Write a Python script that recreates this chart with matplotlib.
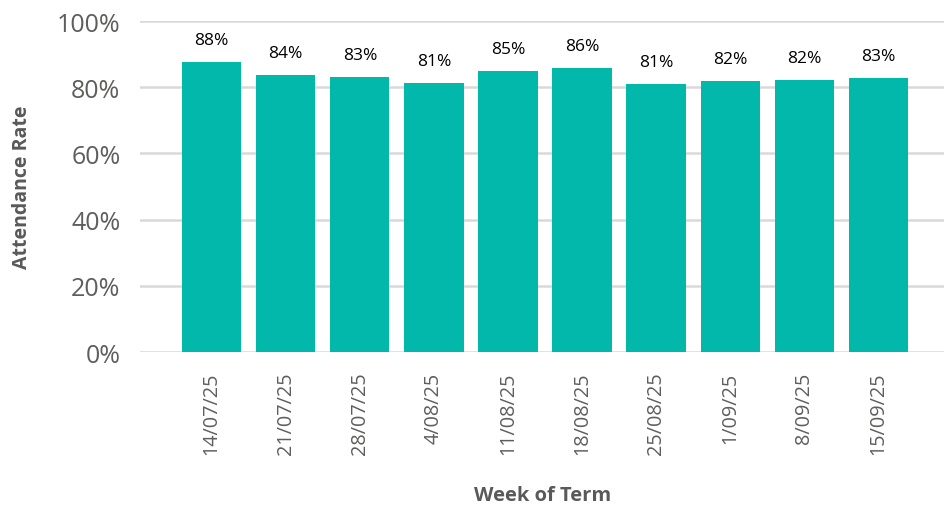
import matplotlib.pyplot as plt
from matplotlib.ticker import PercentFormatter

plt.rcParams['font.family'] = ['Open Sans', 'DejaVu Sans']

weeks = ['14/07/25', '21/07/25', '28/07/25', '4/08/25', '11/08/25',
         '18/08/25', '25/08/25', '1/09/25', '8/09/25', '15/09/25']
attendance = [0.876, 0.837, 0.831, 0.813, 0.849, 0.858, 0.810, 0.819, 0.822, 0.828]

fig = plt.figure(figsize=(9.45, 5.06), dpi=100)
ax = fig.add_axes([0.148, 0.302, 0.852, 0.6545])

x = range(len(weeks))
bars = ax.bar(x, attendance, width=0.8, color='#01B8AA', zorder=3)
for b, v in zip(bars, attendance):
    ax.text(b.get_x() + b.get_width() / 2, v + 0.043, f'{v*100:.0f}%',
            ha='center', va='bottom', fontsize=12.5, color='#000000')

ax.set_ylim(0, 1)
ax.set_xlim(-0.97, 9.9)
ax.set_yticks([0, 0.2, 0.4, 0.6, 0.8, 1.0])
ax.yaxis.set_major_formatter(PercentFormatter(1.0, decimals=0))
ax.set_xticks(list(x))
ax.set_xticklabels(weeks, rotation=90)
ax.tick_params(axis='y', length=0, labelsize=18, labelcolor='#605E5C', pad=14)
ax.tick_params(axis='x', length=0, labelsize=14.3, labelcolor='#605E5C', pad=14)
ax.grid(axis='y', color='#D9D9D9', linewidth=1.8, zorder=0)
for s in ax.spines.values():
    s.set_visible(False)

ax.set_ylabel('Attendance Rate', fontsize=14, fontweight='bold', color='#595959', labelpad=18)
ax.set_xlabel('Week of Term', fontsize=14.5, fontweight='bold', color='#595959', labelpad=22)

fig.savefig('out.png', dpi=100)
